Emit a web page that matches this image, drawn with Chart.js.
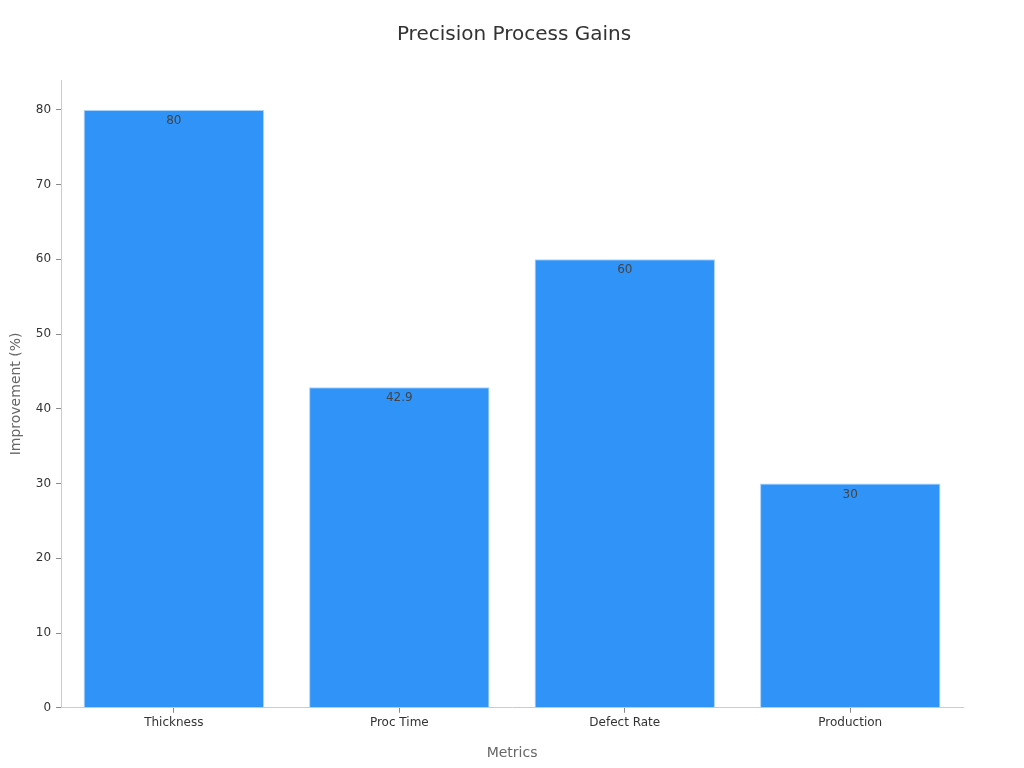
<!DOCTYPE html>
<html>
<head>
<meta charset="utf-8">
<script src="https://cdn.jsdelivr.net/npm/chart.js@4"></script>
<style>
  html, body { margin: 0; padding: 0; background: #fff; }
  #wrap { width: 1024px; height: 768px; }
</style>
</head>
<body>
<div id="wrap"><canvas id="gainsChart"></canvas></div>
<script>
const categories = ["Thickness", "Proc Time", "Defect Rate", "Production"];
const improvement = [80, 42.9, 60, 30];
const yTicks = [0, 10, 20, 30, 40, 50, 60, 70, 80];

// Draws the value just inside the top of each bar
const valueLabels = {
  id: "valueLabels",
  afterDatasetsDraw(chart) {
    const ctx = chart.ctx;
    ctx.save();
    ctx.font = "12px 'DejaVu Sans', sans-serif";
    ctx.fillStyle = "#444";
    ctx.textAlign = "center";
    ctx.textBaseline = "middle";
    chart.getDatasetMeta(0).data.forEach((bar, i) => {
      ctx.fillText(String(improvement[i]), bar.x, bar.y + 11);
    });
    ctx.restore();
  },
};

document.addEventListener("DOMContentLoaded", function () {
  const ctx = document.getElementById("gainsChart").getContext("2d");
  Chart.defaults.font.family = "'DejaVu Sans', sans-serif";

  new Chart(ctx, {
    type: "bar",
    data: {
      labels: categories,
      datasets: [
        {
          label: "Improvement",
          data: improvement,
          backgroundColor: "#2f93f8",
          borderColor: "#a9d2fb",
          borderWidth: 1,
          barPercentage: 0.8,
          categoryPercentage: 1,
        },
      ],
    },
    options: {
      responsive: true,
      maintainAspectRatio: false,
      animation: false,
      layout: { padding: { top: 14, right: 0, left: 4, bottom: 2 } },
      plugins: {
        legend: { display: false },
        tooltip: { enabled: false },
        title: {
          display: true,
          text: "Precision Process Gains",
          color: "#333",
          font: { size: 20, weight: "normal" },
          padding: { top: 9, bottom: 33 },
        },
      },
      scales: {
        x: {
          grid: { display: true, offset: false, drawOnChartArea: false, tickLength: 5, color: "#888" },
          border: { color: "#ccc" },
          ticks: { color: "#333", font: { size: 12 }, padding: 3 },
          title: {
            display: true,
            text: "Metrics",
            color: "#666",
            font: { size: 14 },
            padding: { top: 12 },
          },
        },
        y: {
          min: 0,
          max: 84,
          afterBuildTicks(axis) {
            axis.ticks = yTicks.map((v) => ({ value: v }));
          },
          grid: { display: true, drawOnChartArea: false, tickLength: 5, color: "#888" },
          border: { color: "#ccc" },
          ticks: { color: "#333", font: { size: 12 }, padding: 5 },
          title: {
            display: true,
            text: "Improvement (%)",
            color: "#666",
            font: { size: 14 },
            padding: { bottom: 6 },
          },
        },
        // empty space on the right so the title stays centred on the page
        yRight: {
          position: "right",
          display: true,
          grid: { display: false },
          border: { display: false },
          ticks: { display: false },
          afterFit(axis) {
            axis.width = 61;
          },
        },
      },
    },
    plugins: [valueLabels],
  });
});
</script>
</body>
</html>
